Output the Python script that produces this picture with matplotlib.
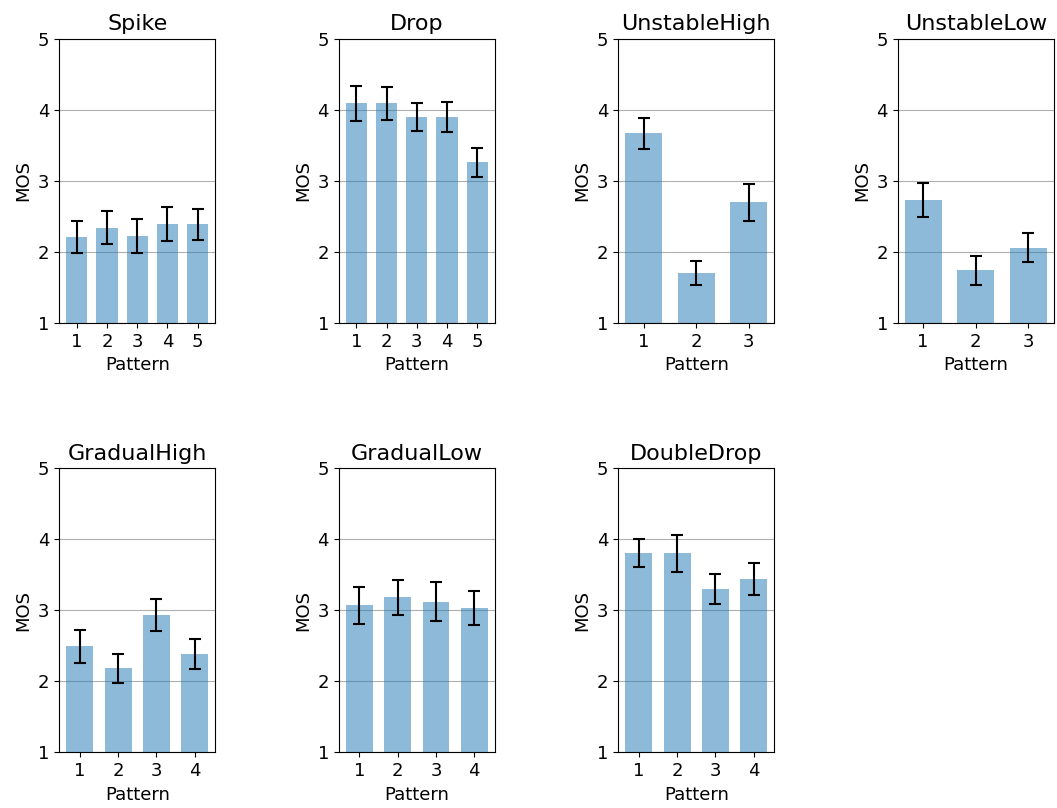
import numpy as np
import matplotlib
matplotlib.use('Agg')
import matplotlib.pyplot as plt

# per-scenario MOS means and error half-widths
names = ['Spike', 'Drop', 'UnstableHigh', 'UnstableLow',
         'GradualHigh', 'GradualLow', 'DoubleDrop']

spike_mos = [2.21, 2.34, 2.22, 2.39, 2.39]
spike_err = [0.23, 0.23, 0.24, 0.24, 0.22]
drop_mos = [4.09, 4.09, 3.90, 3.90, 3.26]
drop_err = [0.24, 0.23, 0.20, 0.21, 0.20]
uhigh_mos = [3.67, 1.70, 2.70]
uhigh_err = [0.22, 0.17, 0.26]
ulow_mos = [2.73, 1.74, 2.06]
ulow_err = [0.24, 0.20, 0.20]
ghigh_mos = [2.49, 2.18, 2.93, 2.38]
ghigh_err = [0.23, 0.20, 0.22, 0.21]
glow_mos = [3.07, 3.18, 3.12, 3.03]
glow_err = [0.26, 0.25, 0.27, 0.24]
ddrop_mos = [3.80, 3.80, 3.30, 3.44]
ddrop_err = [0.20, 0.26, 0.21, 0.23]

all_mos = [spike_mos, drop_mos, uhigh_mos, ulow_mos, ghigh_mos, glow_mos, ddrop_mos]
all_err = [spike_err, drop_err, uhigh_err, ulow_err, ghigh_err, glow_err, ddrop_err]

fig, axes = plt.subplots(2, 4, figsize=(10.57, 8.08), dpi=100)
fig.subplots_adjust(left=0.056, right=0.997, top=0.952, bottom=0.069,
                    wspace=0.79, hspace=0.51)

for i, ax in enumerate(axes.flat):
    if i >= len(names):
        ax.axis('off')
        continue
    mos = all_mos[i]
    err = all_err[i]
    x = np.arange(1, len(mos) + 1)
    ax.bar(x, mos, width=0.7, color='#1f77b4', alpha=0.5,
           yerr=err, capsize=4, error_kw=dict(ecolor='black', elinewidth=1.5, capthick=1.5),
           zorder=2)
    ax.set_ylim(1, 5)
    ax.set_yticks([1, 2, 3, 4, 5])
    ax.set_xticks(x)
    ax.yaxis.grid(True, color='#b0b0b0', linewidth=0.8, zorder=0)
    ax.set_axisbelow(True)
    ax.set_title(names[i], fontsize=16)
    ax.set_xlabel('Pattern', fontsize=13)
    ax.set_ylabel('MOS', fontsize=13)
    ax.tick_params(labelsize=13)

plt.savefig('out.png', dpi=100)
